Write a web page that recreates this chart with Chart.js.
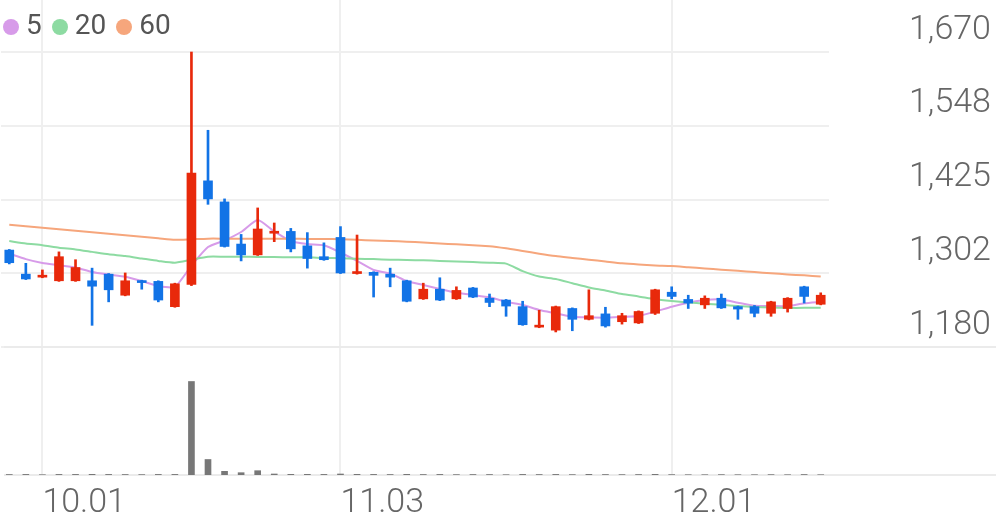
<!DOCTYPE html>
<html><head><meta charset="utf-8">
<script src="https://cdn.jsdelivr.net/npm/chart.js@4.4.1/dist/chart.umd.min.js"></script>
<style>
html,body{margin:0;padding:0;background:#fff;}
#wrap{position:relative;width:996px;height:519px;overflow:hidden;}
#c{position:absolute;left:0;top:0;}
#legend{position:absolute;left:3px;top:7px;display:flex;align-items:center;font-family:Roboto,sans-serif;font-size:28px;font-weight:400;color:#555;line-height:36px;}
#legend .it{display:flex;align-items:center;margin-right:10px;}
#legend .dot{width:16px;height:16px;border-radius:50%;margin-right:7px;margin-top:3px;}
</style></head>
<body><div id="wrap"><canvas id="c" width="996" height="519"></canvas><div id="legend"></div></div>
<script>
const dates = ['09.29','09.30','10.01','10.02','10.10','10.13','10.14','10.15','10.16','10.17',
  '10.20','10.21','10.22','10.23','10.24','10.27','10.28','10.29','10.30','10.31',
  '11.03','11.04','11.05','11.06','11.07','11.10','11.11','11.12','11.13','11.14',
  '11.17','11.18','11.19','11.20','11.21','11.24','11.25','11.26','11.27','11.28',
  '12.01','12.02','12.03','12.04','12.05','12.08','12.09','12.10','12.11','12.12'];
const opens  = [1341,1301,1296,1290,1290,1290,1301,1266,1290,1289, 1247,1284,1456,1421,1351,1333,1369,1372,1348,1330,
                1362,1302,1304,1301,1290,1260,1276,1260,1278,1261, 1258,1247,1213,1208,1244,1226,1235,1222,1220,1236,
                1271,1259,1250,1261,1247,1247,1236,1244,1280,1251];
const highs  = [1342,1319,1308,1338,1325,1311,1302,1303,1291,1290, 1286,1670,1540,1426,1367,1411,1386,1377,1370,1353,
                1380,1366,1305,1311,1291,1286,1295,1280,1279,1268, 1259,1256,1241,1248,1245,1275,1246,1236,1240,1276,
                1280,1266,1265,1268,1248,1249,1256,1262,1281,1270];
const lows   = [1318,1292,1295,1289,1289,1216,1255,1265,1276,1255, 1246,1282,1417,1346,1323,1332,1355,1338,1311,1324,
                1302,1301,1263,1280,1255,1259,1257,1259,1262,1247, 1231,1216,1212,1205,1207,1225,1213,1218,1219,1234,
                1260,1244,1244,1244,1226,1230,1231,1238,1253,1250];
const closes = [1320,1293,1299,1330,1312,1281,1275,1290,1287,1258, 1285,1469,1426,1347,1333,1376,1372,1343,1327,1325,
                1303,1304,1299,1296,1256,1276,1258,1274,1263,1254, 1248,1217,1215,1247,1226,1232,1215,1232,1239,1275,
                1264,1253,1261,1245,1243,1236,1255,1261,1264,1266];
const volumes = [50000,60000,30000,60000,60000,70000,60000,50000,40000,60000,
                 60000,9350000,1550000,370000,230000,430000,100000,70000,70000,60000,
                 100000,70000,60000,50000,70000,50000,60000,40000,50000,50000,
                 30000,60000,50000,60000,40000,70000,50000,40000,50000,70000,
                 40000,30000,30000,40000,30000,30000,40000,30000,50000,30000];
const ma5  = [1335,1326,1319.5,1316,1312,1304.6,1300.4,1296.8,1289.6,1281.3,
              1280,1315,1346,1357,1371,1391,1372,1356,1351,1349,
              1337,1323,1308,1302,1289.6,1283,1276.3,1270,1266.4,1262.5,
              1255,1249.8,1241.5,1236,1230.4,1229.3,1228.7,1230,1231.5,1238.6,
              1247,1253.6,1258,1259,1253.6,1248.6,1248,1248,1252.6,1255];
const ma20 = [1356,1352,1349,1345,1342,1338,1334,1331,1327,1323,
              1320,1325,1330,1330,1330,1329.5,1329.5,1329,1329,1328,
              1327.5,1326.5,1326,1325,1324.5,1324,1323,1322,1321,1320,
              1318.5,1306,1297,1293,1286,1279,1274,1268,1264,1259.5,
              1256.5,1254,1252,1250,1248,1246.5,1245.5,1245,1245,1245];
const ma60 = [1383,1380.5,1378,1375.5,1373,1370.5,1368,1365.5,1363,1360.5,
              1358,1359,1360,1360,1360,1360,1360,1360,1359.5,1359.5,
              1359,1358,1357,1356,1355,1353.5,1352,1350.5,1349,1347.5,
              1344,1339.5,1335,1331,1328,1325,1322,1319,1317,1315.5,
              1314.5,1312.5,1310.5,1308.5,1306.5,1304.5,1302.5,1300.5,1299,1297];
const maNames = ['5','20','60'];
const priceTicks = [1180, 1302.5, 1425, 1547.5, 1670];
const priceTickLabels = ['1,180','1,302','1,425','1,548','1,670'];
const xTickLabels = ['10.01','11.03','12.01'];
const priceAxisMax = 1756.4;
const volumeAxisMax = 12800000;

const UP = '#e8290b', DOWN = '#1273e6';
const maColors = ['#d79be9','#8ddba2','#f6a67c'];
const candleColors = closes.map((c,i)=> c >= opens[i] ? UP : DOWN);

const lg = document.getElementById('legend');
maNames.forEach((n,i)=>{
  const it=document.createElement('div'); it.className='it';
  const d=document.createElement('span'); d.className='dot'; d.style.background=maColors[i];
  const t=document.createElement('span'); t.textContent=n;
  it.appendChild(d); it.appendChild(t); lg.appendChild(it);
});

const fullLines = {
  id:'fullLines',
  beforeDatasetsDraw(chart){
    const ctx=chart.ctx;
    const ys=[chart.scales.y.getPixelForValue(priceTicks[0]), chart.scales.yv.getPixelForValue(0)];
    ctx.save(); ctx.strokeStyle='#ebebeb'; ctx.lineWidth=2;
    ys.forEach(y=>{ctx.beginPath();ctx.moveTo(4,y);ctx.lineTo(chart.width,y);ctx.stroke();});
    ctx.restore();
  }
};
const noPad = s=>{ s.paddingTop=0; s.paddingBottom=0; s.paddingLeft=0; s.paddingRight=0; };

const axisFont = {family:'Roboto', size:34, weight:300};
const lineDs = (data,color)=>({type:'line', data, borderColor:color, borderWidth:2, pointRadius:0, tension:0.2, yAxisID:'y', order:5, fill:false});

new Chart(document.getElementById('c'), {
  type:'bar',
  data:{
    labels:dates,
    datasets:[
      lineDs(ma60, maColors[2]),
      lineDs(ma20, maColors[1]),
      lineDs(ma5, maColors[0]),
      {label:'wick', data:lows.map((l,i)=>[l,highs[i]]), backgroundColor:candleColors, barThickness:2, yAxisID:'y', order:2, grouped:false},
      {label:'body', data:opens.map((o,i)=>[o,closes[i]]), backgroundColor:candleColors, barThickness:9, minBarLength:2, yAxisID:'y', order:1, grouped:false},
      {label:'vol', data:volumes, backgroundColor:'#777777', barThickness:6, yAxisID:'yv', order:3, grouped:false}
    ]
  },
  options:{
    responsive:false, animation:false,
    layout:{padding:{left:1,top:0,right:0,bottom:0}},
    plugins:{legend:{display:false}, tooltip:{enabled:false}},
    scales:{
      x:{
        type:'category', offset:true,
        grid:{offset:false, color:'#efefef', lineWidth:2, drawTicks:false},
        border:{display:false},
        ticks:{autoSkip:false, maxRotation:0, align:'start', padding:8, labelOffset:0, font:axisFont, color:'#666'},
        afterBuildTicks:s=>{ s.ticks = s.ticks.filter(t=>xTickLabels.includes(dates[t.value])); },
        afterFit:s=>{ s.height = 44; noPad(s); }
      },
      y:{
        position:'right', stack:'main', stackWeight:347, weight:1,
        min:1180, max:priceAxisMax,
        afterBuildTicks:s=>{ s.ticks = priceTicks.map(v=>({value:v})); },
        ticks:{callback:(v,i)=>priceTickLabels[i], crossAlign:'near', padding:80, labelOffset:-22, font:axisFont, color:'#666'},
        grid:{color:'#efefef', lineWidth:2, drawTicks:false},
        border:{display:false},
        afterFit:s=>{ s.width = 167; noPad(s); }
      },
      yv:{
        position:'right', stack:'main', stackWeight:128, weight:2,
        min:0, max:volumeAxisMax,
        ticks:{display:false}, grid:{display:false}, border:{display:false},
        afterFit:s=>{ s.width = 167; noPad(s); }
      }
    }
  },
  plugins:[fullLines]
});
</script>
</body></html>
